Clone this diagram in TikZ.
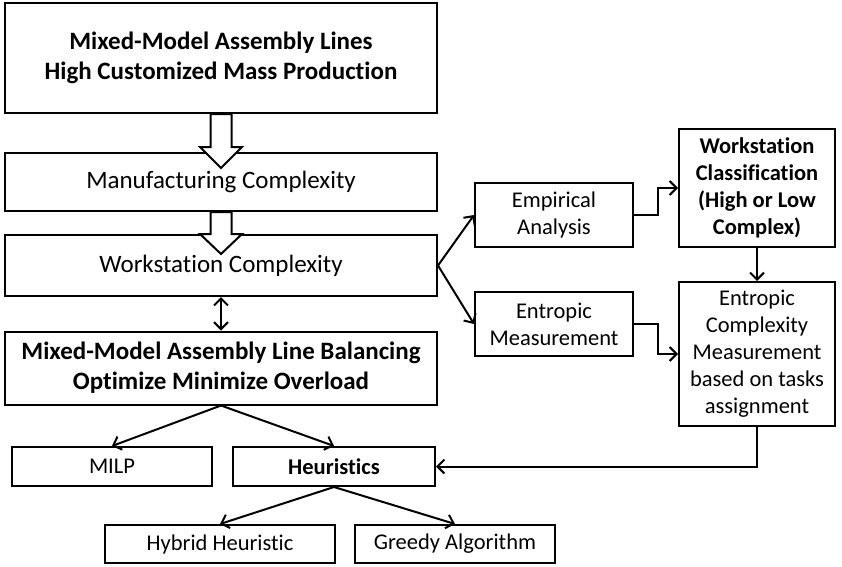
\documentclass[tikz,border=0pt]{standalone}
\usepackage{fontspec}
\setmainfont{Carlito}[Ligatures=CommonOff]
\usetikzlibrary{arrows.meta}

\begin{document}
\begin{tikzpicture}[
        x=1pt, y=-1pt,
        box/.style={
        rectangle,
        draw,
        line width=2pt,
        align=center,
        inner sep=2pt
      },
      big/.style={box, minimum width=432pt, font=\fontsize{25}{30}\selectfont},
      small/.style={box, font=\fontsize{22.5}{27}\selectfont},
      hollow/.style={draw, fill=white, line width=2pt, line join=miter},
      link/.style={line width=2pt, -{Straight Barb[length=7pt,width=14pt]}}
    ]

    \useasboundingbox (0,0) rectangle (842,566);

    \node[big, minimum height=110pt] (mal) at (221, 58) {\textbf{Mixed-Model Assembly Lines}\\\textbf{High Customized Mass Production}};
    \node[big, minimum height=58pt] (mfg) at (221, 182) {Manufacturing Complexity};
    \node[big, minimum height=61pt] (wsc) at (221, 265.5) {Workstation Complexity};
    \node[big, minimum height=73pt] (bal) at (221, 368) {\textbf{Mixed-Model Assembly Line Balancing}\\\textbf{Optimize Minimize Overload}};

    \node[small, minimum width=200pt, minimum height=39pt] (milp) at (112, 466.5) {MILP};
    \node[small, minimum width=202pt, minimum height=39pt] (heur) at (334, 466.5) {\textbf{Heuristics}};

    \node[small, minimum width=230pt, minimum height=38pt] (hyb) at (220, 544) {Hybrid Heuristic};
    \node[small, minimum width=200pt, minimum height=38pt] (greedy) at (455, 544) {Greedy Algorithm};

    \node[small, minimum width=158pt, minimum height=64pt] (emp) at (554, 215) {Empirical\\Analysis};
    \node[small, minimum width=158pt, minimum height=64pt] (ent) at (554, 324) {Entropic\\Measurement};

    \node[small, minimum width=156pt, minimum height=118pt] (cls) at (757, 188) {\textbf{Workstation}\\\textbf{Classification}\\\textbf{(High or Low}\\\textbf{Complex)}};
    \node[small, minimum width=156pt, minimum height=144pt] (ecm) at (757, 354) {Entropic\\Complexity\\Measurement\\based on tasks\\assignment};

    % hollow block arrows
    \draw[hollow] (mal.south) ++(-10.5,0) -- ++(0,33) -- ++(-10.5,0) -- ++(21,21) -- ++(21,-21) -- ++(-10.5,0) -- ++(0,-33) -- cycle;
    \draw[hollow] (mfg.south) ++(-10.5,0) -- ++(0,22) -- ++(-10.5,0) -- ++(21,20) -- ++(21,-20) -- ++(-10.5,0) -- ++(0,-22) -- cycle;

    \draw[link, {Straight Barb[length=7pt,width=14pt]}-{Straight Barb[length=7pt,width=14pt]}] (wsc.south) -- (bal.north);

    \draw[link] (bal.south) -- (milp.north);
    \draw[link] (bal.south) -- (heur.north);

    \draw[link] (heur.south) -- (hyb.north);
    \draw[link] (heur.south) -- (greedy.north);

    \draw[link] (wsc.east) -- (emp.west);
    \draw[link] (wsc.east) -- (ent.west);

    \draw[link] (emp.east) -- ++(24,0) |- (cls.west);
    \draw[link] (ent.east) -- ++(24,0) |- (ecm.west);

    \draw[link] (cls.south) -- (ecm.north);
    \draw[link] (ecm.south) |- (heur.east);

  \end{tikzpicture}
\end{document}
